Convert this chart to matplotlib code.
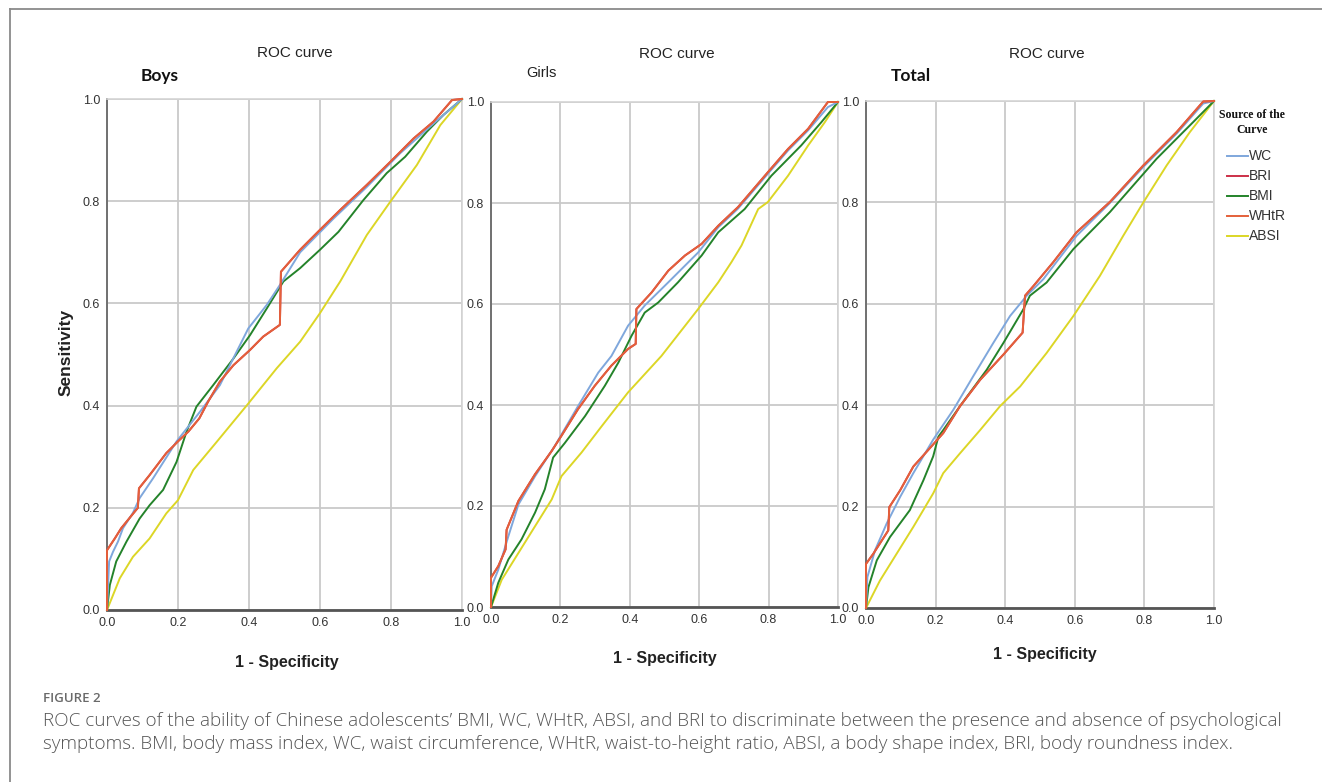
"""
ROC curves of BMI, WC, WHtR, ABSI and BRI for psychological symptoms
(boys, girls, total), redrawn from the published figure.

Writes out.png at 1322x782.
"""

import matplotlib
matplotlib.use("Agg")
import matplotlib.pyplot as plt
from matplotlib.lines import Line2D


W, H = 1322, 782

NARROW = ["Liberation Sans Narrow", "Liberation Sans", "DejaVu Sans"]
SERIF = ["Liberation Serif", "DejaVu Serif"]
HUMAN = ["Lato", "Open Sans", "DejaVu Sans"]
CAPTION = ["Open Sans", "Lato", "DejaVu Sans"]

# curve points, (1 - specificity, sensitivity)
boys_whtr_x = [0, 0, 0.022, 0.04, 0.087, 0.09, 0.12, 0.167, 0.2, 0.229, 0.26, 0.285,
               0.318, 0.356, 0.403, 0.44, 0.487, 0.49, 0.544, 0.6, 0.657, 0.732,
               0.798, 0.864, 0.92, 0.972, 1]
boys_whtr_y = [0, 0.117, 0.14, 0.16, 0.2, 0.238, 0.264, 0.307, 0.33, 0.349, 0.375, 0.408,
               0.447, 0.479, 0.509, 0.535, 0.558, 0.662, 0.705, 0.744, 0.783, 0.832,
               0.877, 0.923, 0.956, 0.998, 1]
boys_wc_x = [0, 0.006, 0.017, 0.031, 0.045, 0.073, 0.092, 0.13, 0.196, 0.262, 0.318,
             0.398, 0.45, 0.487, 0.544, 0.638, 0.732, 0.826, 0.92, 1]
boys_wc_y = [0, 0.095, 0.114, 0.134, 0.16, 0.19, 0.219, 0.258, 0.33, 0.388, 0.44,
             0.551, 0.597, 0.636, 0.70, 0.766, 0.828, 0.894, 0.952, 1]
boys_bmi_x = [0, 0.008, 0.026, 0.055, 0.092, 0.12, 0.158, 0.196, 0.224, 0.252, 0.299,
              0.356, 0.403, 0.45, 0.497, 0.544, 0.6, 0.652, 0.722, 0.788, 0.84, 0.901,
              0.948, 1]
boys_bmi_y = [0, 0.049, 0.095, 0.134, 0.179, 0.205, 0.235, 0.29, 0.349, 0.398, 0.44,
              0.492, 0.538, 0.59, 0.643, 0.669, 0.705, 0.74, 0.802, 0.855, 0.887, 0.936,
              0.969, 1]
boys_absi_x = [0, 0.036, 0.073, 0.12, 0.167, 0.2, 0.243, 0.309, 0.398, 0.478, 0.544, 0.6,
               0.657, 0.732, 0.798, 0.873, 0.939, 1]
boys_absi_y = [0, 0.062, 0.104, 0.14, 0.189, 0.215, 0.274, 0.329, 0.404, 0.473, 0.525,
               0.581, 0.643, 0.734, 0.799, 0.871, 0.949, 1]

girls_whtr_x = [0, 0, 0.021, 0.042, 0.045, 0.079, 0.127, 0.175, 0.203, 0.251, 0.299,
                0.347, 0.395, 0.417, 0.419, 0.463, 0.511, 0.559, 0.607, 0.655, 0.712,
                0.798, 0.856, 0.914, 0.971, 1]
girls_whtr_y = [0, 0.058, 0.081, 0.114, 0.153, 0.21, 0.263, 0.309, 0.339, 0.392, 0.438,
                0.478, 0.511, 0.521, 0.59, 0.623, 0.666, 0.696, 0.719, 0.755, 0.792,
                0.861, 0.907, 0.947, 1.0, 1]
girls_wc_x = [0, 0.002, 0.021, 0.05, 0.079, 0.127, 0.184, 0.251, 0.309, 0.347, 0.395,
              0.443, 0.511, 0.597, 0.655, 0.712, 0.798, 0.856, 0.914, 0.971, 1]
girls_wc_y = [0, 0.041, 0.074, 0.14, 0.203, 0.259, 0.319, 0.398, 0.464, 0.497, 0.557,
              0.597, 0.643, 0.702, 0.752, 0.789, 0.858, 0.904, 0.944, 0.99, 1]
girls_bmi_x = [0, 0.021, 0.05, 0.088, 0.127, 0.155, 0.179, 0.213, 0.271, 0.328, 0.367,
               0.405, 0.443, 0.482, 0.539, 0.607, 0.655, 0.731, 0.808, 0.894, 0.952, 1]
girls_bmi_y = [0, 0.048, 0.094, 0.134, 0.187, 0.233, 0.296, 0.325, 0.378, 0.438, 0.484,
               0.537, 0.583, 0.603, 0.643, 0.696, 0.742, 0.788, 0.854, 0.914, 0.96, 1]
girls_absi_x = [0, 0.031, 0.079, 0.127, 0.175, 0.203, 0.261, 0.319, 0.395, 0.491, 0.597,
                0.655, 0.693, 0.722, 0.77, 0.798, 0.856, 0.914, 0.962, 1]
girls_absi_y = [0, 0.054, 0.107, 0.16, 0.213, 0.259, 0.306, 0.358, 0.425, 0.497, 0.59,
                0.643, 0.683, 0.716, 0.788, 0.802, 0.854, 0.914, 0.96, 1]

total_whtr_x = [0, 0, 0.021, 0.064, 0.067, 0.098, 0.136, 0.174, 0.222, 0.27, 0.328,
                0.395, 0.45, 0.457, 0.481, 0.538, 0.605, 0.701, 0.797, 0.893, 0.969, 1]
total_whtr_y = [0, 0.087, 0.107, 0.153, 0.199, 0.232, 0.279, 0.308, 0.345, 0.398, 0.45,
                0.5, 0.543, 0.616, 0.635, 0.682, 0.741, 0.801, 0.873, 0.939, 0.999, 1]
total_wc_x = [0, 0.004, 0.026, 0.059, 0.098, 0.136, 0.193, 0.251, 0.308, 0.366, 0.414,
              0.462, 0.51, 0.605, 0.701, 0.797, 0.893, 0.969, 1]
total_wc_y = [0, 0.061, 0.114, 0.166, 0.219, 0.266, 0.332, 0.391, 0.457, 0.523, 0.576,
              0.616, 0.649, 0.734, 0.799, 0.87, 0.936, 0.995, 1]
total_bmi_x = [0, 0.007, 0.031, 0.069, 0.126, 0.165, 0.193, 0.208, 0.222, 0.27, 0.347,
               0.395, 0.452, 0.471, 0.519, 0.596, 0.701, 0.835, 0.893, 0.941, 1]
total_bmi_y = [0, 0.041, 0.094, 0.14, 0.193, 0.252, 0.299, 0.338, 0.351, 0.398, 0.47,
               0.523, 0.589, 0.616, 0.642, 0.708, 0.781, 0.886, 0.926, 0.959, 1]
total_absi_x = [0, 0.04, 0.088, 0.136, 0.193, 0.222, 0.27, 0.328, 0.385, 0.443, 0.519,
                0.596, 0.672, 0.739, 0.797, 0.864, 0.931, 1]
total_absi_y = [0, 0.054, 0.107, 0.16, 0.226, 0.266, 0.305, 0.351, 0.398, 0.437, 0.503,
                0.576, 0.655, 0.734, 0.8, 0.873, 0.939, 1]

# BRI is a monotone function of WHtR, so its ROC curve is the same one
# (in the original it sits right underneath the WHtR line)
panels = {
    "Boys": {
        "WC": (boys_wc_x, boys_wc_y),
        "BRI": (boys_whtr_x, boys_whtr_y),
        "BMI": (boys_bmi_x, boys_bmi_y),
        "WHtR": (boys_whtr_x, boys_whtr_y),
        "ABSI": (boys_absi_x, boys_absi_y),
    },
    "Girls": {
        "WC": (girls_wc_x, girls_wc_y),
        "BRI": (girls_whtr_x, girls_whtr_y),
        "BMI": (girls_bmi_x, girls_bmi_y),
        "WHtR": (girls_whtr_x, girls_whtr_y),
        "ABSI": (girls_absi_x, girls_absi_y),
    },
    "Total": {
        "WC": (total_wc_x, total_wc_y),
        "BRI": (total_whtr_x, total_whtr_y),
        "BMI": (total_bmi_x, total_bmi_y),
        "WHtR": (total_whtr_x, total_whtr_y),
        "ABSI": (total_absi_x, total_absi_y),
    },
}

legend_order = ["WC", "BRI", "BMI", "WHtR", "ABSI"]
draw_order = ["ABSI", "BMI", "WC", "BRI", "WHtR"]

colours = {
    "WC": "#7fa7dc",
    "BRI": "#cc3048",
    "BMI": "#24832a",
    "WHtR": "#e4603a",
    "ABSI": "#dcd626",
}

ticks = [0.0, 0.2, 0.4, 0.6, 0.8, 1.0]
tick_labels = ["0.0", "0.2", "0.4", "0.6", "0.8", "1.0"]

# axes boxes in pixels: left, top, right, bottom
boxes = {
    "Boys": (107, 99, 462, 610),
    "Girls": (491, 102, 838, 607),
    "Total": (866, 101, 1214, 608),
}


def fx(px):
    return px / W


def fy(py):
    return 1 - py / H


fig = plt.figure(figsize=(W / 100, H / 100), dpi=100)
fig.patch.set_facecolor("white")

for name, (l, t, r, b) in boxes.items():
    ax = fig.add_axes([fx(l), fy(b), (r - l) / W, (b - t) / H])
    for key in draw_order:
        xs, ys = panels[name][key]
        ax.plot(xs, ys, color=colours[key], lw=1.4, solid_joinstyle="round",
                clip_on=False, zorder=3)
    ax.set_xlim(0, 1)
    ax.set_ylim(0, 1)
    ax.set_xticks(ticks)
    ax.set_yticks(ticks)
    ax.set_xticklabels(tick_labels, family=NARROW, fontsize=9, color="#333333")
    ax.set_yticklabels(tick_labels, family=NARROW, fontsize=9, color="#333333")
    ax.tick_params(length=0, pad=5)
    ax.grid(True, color="#c9c9c9", lw=1.3)
    ax.set_axisbelow(True)
    for side in ("top", "right"):
        ax.spines[side].set_color("#d4d4d4")
        ax.spines[side].set_linewidth(1.2)
    ax.spines["left"].set_color("#707070")
    ax.spines["left"].set_linewidth(1.4)
    ax.spines["bottom"].set_color("#555555")
    ax.spines["bottom"].set_linewidth(2.0)

# titles, group names and axis labels, placed where the original has them
for cx, cy in [(295, 53), (677, 54), (1047, 54)]:
    fig.text(fx(cx), fy(cy), "ROC curve", family=NARROW, fontsize=11,
             ha="center", va="center", color="#222222")

fig.text(fx(160), fy(76), "Boys", family=HUMAN, fontweight="bold", fontsize=12.5,
         ha="center", va="center", color="#111111")
fig.text(fx(541), fy(73), "Girls", family=NARROW, fontsize=10.5,
         ha="center", va="center", color="#222222")
fig.text(fx(911), fy(76), "Total", family=HUMAN, fontweight="bold", fontsize=12.5,
         ha="center", va="center", color="#111111")

fig.text(fx(66), fy(352), "Sensitivity", family=["Liberation Sans", "DejaVu Sans"],
         fontweight="bold", fontsize=12.5, rotation=90, ha="center", va="center",
         color="#222222")
for cx, cy in [(287, 662), (665, 658), (1045, 655)]:
    fig.text(fx(cx), fy(cy), "1 - Specificity", family=NARROW, fontweight="bold",
             fontsize=11.5, ha="center", va="center", color="#222222")

# legend of the last panel, drawn by hand like the SPSS output
fig.text(fx(1252), fy(115), "Source of the", family=SERIF, fontweight="bold",
         fontsize=8.5, ha="center", va="center", color="#111111")
fig.text(fx(1252), fy(130), "Curve", family=SERIF, fontweight="bold",
         fontsize=8.5, ha="center", va="center", color="#111111")
for i, key in enumerate(legend_order):
    yy = fy(156 + i * 20)
    fig.add_artist(Line2D([fx(1227), fx(1248)], [yy, yy], color=colours[key],
                          lw=1.4, transform=fig.transFigure))
    fig.text(fx(1249), yy, key, family=NARROW, fontsize=10,
             ha="left", va="center", color="#333333")

# page frame (top and left rules)
fig.add_artist(Line2D([fx(10), 1], [fy(9), fy(9)], color="#8a8a8a", lw=1.3,
                      transform=fig.transFigure))
fig.add_artist(Line2D([fx(10), fx(10)], [fy(9), 0], color="#8a8a8a", lw=1.3,
                      transform=fig.transFigure))

# caption
fig.text(fx(43), fy(699), "FIGURE 2", family=CAPTION, fontweight="semibold",
         fontsize=9.5, ha="left", va="center", color="#6a6a6a")
fig.text(fx(43), fy(721),
         "ROC curves of the ability of Chinese adolescents\u2019 BMI, WC, WHtR, ABSI, "
         "and BRI to discriminate between the presence and absence of psychological",
         family=CAPTION, fontweight="light", fontsize=13.6, ha="left", va="center",
         color="#555555")
fig.text(fx(43), fy(744),
         "symptoms. BMI, body mass index, WC, waist circumference, WHtR, "
         "waist-to-height ratio, ABSI, a body shape index, BRI, body roundness index.",
         family=CAPTION, fontweight="light", fontsize=13.6, ha="left", va="center",
         color="#555555")

fig.savefig("out.png", dpi=100, facecolor="white")
plt.close(fig)
